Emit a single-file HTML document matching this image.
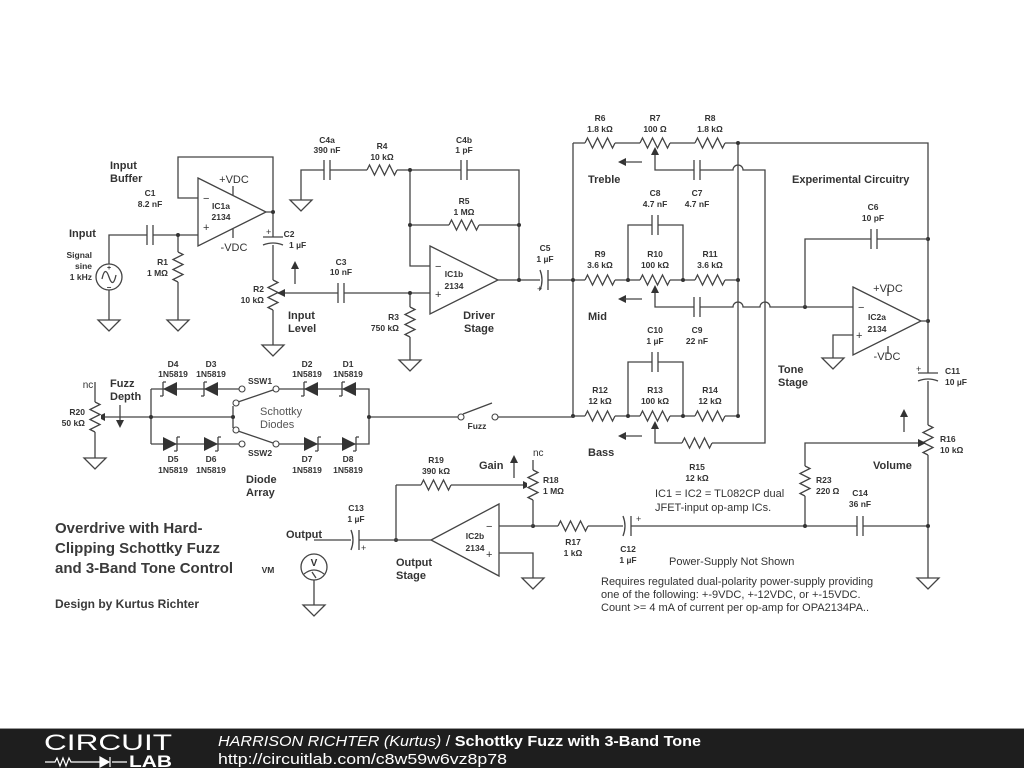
<!DOCTYPE html>
<html><head><meta charset="utf-8"><style>
html,body{margin:0;padding:0;background:#fff;}
svg{display:block;}
.w{fill:none;stroke:#444;stroke-width:1.3;}
text{font-family:"Liberation Sans",sans-serif;fill:#333;}
.l{font-size:8.5px;font-weight:bold;text-anchor:middle;}
.b{font-size:11px;font-weight:bold;}
.n{font-size:11px;}
</style></head><body>
<svg width="1024" height="768" viewBox="0 0 1024 768">
<defs>
<g id="r"><rect x="-15" y="-6" width="30" height="12" fill="#fff"/><path class="w" d="M-15,0 l2.5,-5 l5,10 l5,-10 l5,10 l5,-10 l5,10 l2.5,-5"/></g>
<g id="c"><rect x="-3" y="-10" width="6" height="20" fill="#fff"/><path class="w" d="M-3,-10V10M3,-10V10"/></g>
<g id="ce"><rect x="-3" y="-10" width="8" height="20" fill="#fff"/><path class="w" d="M-3,-10V10M5,-10Q1,0 5,10"/></g>
<path id="g" d="M-11,0H11L0,11Z" fill="#fff" stroke="#444" stroke-width="1.3"/>
<g id="dl"><path d="M-7,0L7,-7V7Z" fill="#333"/><path class="w" d="M-7,-7V7M-7,-7h3M-7,7h-3" stroke-width="1.6"/></g>
<g id="dr"><path d="M7,0L-7,-7V7Z" fill="#333"/><path class="w" d="M7,-7V7M7,-7h3M7,7h-3" stroke-width="1.6"/></g>
</defs>

<!-- ===== Input buffer ===== -->
<path class="w" d="M109,264V235H198M109,290V320M178,235V320M198,198H178V157H273V212M266,212H273V345M233,195V186M233,229V238"/>
<circle cx="109" cy="277" r="13" fill="#fff" stroke="#444" stroke-width="1.3"/>
<path class="w" d="M102,279 q3,-14 7,-2 q4,12 7,-2"/>
<text x="109" y="270" class="l" style="font-size:7px">+</text><text x="109" y="290" class="l" style="font-size:8px">−</text>
<use href="#g" x="109" y="320"/><use href="#g" x="178" y="320"/>
<use href="#c" x="150" y="235"/>
<use href="#r" transform="translate(178,267) rotate(90)"/>
<polygon points="198,178 266,212 198,246" fill="#fff" stroke="#444" stroke-width="1.3"/>
<text x="203" y="202" class="n">−</text><text x="203" y="231" class="n">+</text>
<text x="221" y="209" class="l">IC1a</text><text x="221" y="220" class="l">2134</text>
<text x="234" y="183" class="n" text-anchor="middle">+VDC</text><text x="234" y="251" class="n" text-anchor="middle">-VDC</text>
<use href="#ce" transform="translate(273,240) rotate(90)"/>
<text x="266" y="235" class="n" style="font-size:9px">+</text>
<text x="289" y="237" class="l" text-anchor="start">C2</text><text x="289" y="248" class="l" style="text-anchor:start">1 µF</text>
<use href="#r" transform="translate(273,295) rotate(90)"/>
<use href="#g" x="273" y="345"/>
<text x="110" y="169" class="b">Input</text><text x="110" y="182" class="b">Buffer</text>
<text x="69" y="237" class="b">Input</text>
<text x="92" y="258" class="l" style="text-anchor:end">Signal</text><text x="92" y="269" class="l" style="text-anchor:end">sine</text><text x="92" y="280" class="l" style="text-anchor:end">1 kHz</text>
<text x="150" y="196" class="l">C1</text><text x="150" y="207" class="l">8.2 nF</text>
<text x="168" y="265" class="l" style="text-anchor:end">R1</text><text x="168" y="276" class="l" style="text-anchor:end">1 MΩ</text>
<text x="264" y="292" class="l" style="text-anchor:end">R2</text><text x="264" y="303" class="l" style="text-anchor:end">10 kΩ</text>
<text x="288" y="319" class="b">Input</text><text x="288" y="332" class="b">Level</text>
<path class="w" d="M295,284V268"/><path d="M295,261l-4,8h8z" fill="#333"/>

<!-- ===== Driver ===== -->
<path class="w" d="M278,293H430M410,293V360M430,266H410V170H519V280M410,225H519M498,280H574M301,200V170H410"/>
<path d="M277,293l8,-4v8z" fill="#333"/>
<use href="#g" x="301" y="200"/><use href="#g" x="410" y="360"/>
<use href="#c" x="341" y="293"/><use href="#c" x="327" y="170"/><use href="#c" x="464" y="170"/>
<use href="#r" x="382" y="170"/><use href="#r" x="464" y="225"/>
<use href="#r" transform="translate(410,322) rotate(90)"/>
<polygon points="430,246 498,280 430,314" fill="#fff" stroke="#444" stroke-width="1.3"/>
<text x="435" y="270" class="n">−</text><text x="435" y="298" class="n">+</text>
<text x="454" y="277" class="l">IC1b</text><text x="454" y="289" class="l">2134</text>
<text x="341" y="265" class="l">C3</text><text x="341" y="275" class="l">10 nF</text>
<text x="399" y="320" class="l" style="text-anchor:end">R3</text><text x="399" y="331" class="l" style="text-anchor:end">750 kΩ</text>
<text x="327" y="143" class="l">C4a</text><text x="327" y="153" class="l">390 nF</text>
<text x="382" y="149" class="l">R4</text><text x="382" y="160" class="l">10 kΩ</text>
<text x="464" y="143" class="l">C4b</text><text x="464" y="153" class="l">1 pF</text>
<text x="464" y="204" class="l">R5</text><text x="464" y="215" class="l">1 MΩ</text>
<text x="479" y="319" class="b" text-anchor="middle">Driver</text><text x="479" y="332" class="b" text-anchor="middle">Stage</text>
<use href="#ce" transform="translate(545,280) rotate(180)"/>
<text x="537" y="292" class="n" style="font-size:9px">+</text>
<text x="545" y="251" class="l">C5</text><text x="545" y="262" class="l">1 µF</text>
<g fill="#333"><circle cx="178" cy="235" r="2"/><circle cx="273" cy="212" r="2"/><circle cx="410" cy="293" r="2"/><circle cx="410" cy="225" r="2"/><circle cx="410" cy="170" r="2"/><circle cx="519" cy="225" r="2"/><circle cx="519" cy="280" r="2"/></g>

<!-- ===== Tone stack ===== -->
<path class="w" d="M573,143V416M573,143H928V578M573,280H738M573,416H738M738,143V416M628,280V225H683V280M628,416V362H683V416"/>
<path class="w" d="M655,150V170H733a5,5 0 0 1 10,0H765V443H655V424"/>
<path class="w" d="M655,288V307H733a5,5 0 0 1 10,0H760a5,5 0 0 1 10,0H853"/>
<use href="#r" x="600" y="143"/><use href="#r" x="655" y="143"/><use href="#r" x="710" y="143"/>
<use href="#r" x="600" y="280"/><use href="#r" x="655" y="280"/><use href="#r" x="710" y="280"/>
<use href="#r" x="600" y="416"/><use href="#r" x="655" y="416"/><use href="#r" x="710" y="416"/>
<use href="#r" x="697" y="443"/>
<use href="#c" x="697" y="170"/><use href="#c" x="655" y="225"/><use href="#c" x="697" y="307"/><use href="#c" x="655" y="362"/>
<g fill="#333"><path d="M655,147l-4,8h8z"/><path d="M655,285l-4,8h8z"/><path d="M655,421l-4,8h8z"/>
<path d="M618,162l8,-4v8z"/><path d="M618,299l8,-4v8z"/><path d="M618,436l8,-4v8z"/>
<circle cx="738" cy="143" r="2"/><circle cx="573" cy="280" r="2"/><circle cx="628" cy="280" r="2"/><circle cx="683" cy="280" r="2"/><circle cx="738" cy="280" r="2"/>
<circle cx="573" cy="416" r="2"/><circle cx="628" cy="416" r="2"/><circle cx="683" cy="416" r="2"/><circle cx="738" cy="416" r="2"/>
<circle cx="805" cy="307" r="2"/><circle cx="928" cy="239" r="2"/><circle cx="928" cy="321" r="2"/></g>
<path class="w" d="M624,162H642M624,299H642M624,436H642"/>
<text x="600" y="121" class="l">R6</text><text x="600" y="132" class="l">1.8 kΩ</text>
<text x="655" y="121" class="l">R7</text><text x="655" y="132" class="l">100 Ω</text>
<text x="710" y="121" class="l">R8</text><text x="710" y="132" class="l">1.8 kΩ</text>
<text x="588" y="183" class="b">Treble</text>
<text x="655" y="196" class="l">C8</text><text x="655" y="207" class="l">4.7 nF</text>
<text x="697" y="196" class="l">C7</text><text x="697" y="207" class="l">4.7 nF</text>
<text x="600" y="257" class="l">R9</text><text x="600" y="268" class="l">3.6 kΩ</text>
<text x="655" y="257" class="l">R10</text><text x="655" y="268" class="l">100 kΩ</text>
<text x="710" y="257" class="l">R11</text><text x="710" y="268" class="l">3.6 kΩ</text>
<text x="588" y="320" class="b">Mid</text>
<text x="655" y="333" class="l">C10</text><text x="655" y="344" class="l">1 µF</text>
<text x="697" y="333" class="l">C9</text><text x="697" y="344" class="l">22 nF</text>
<text x="600" y="393" class="l">R12</text><text x="600" y="404" class="l">12 kΩ</text>
<text x="655" y="393" class="l">R13</text><text x="655" y="404" class="l">100 kΩ</text>
<text x="710" y="393" class="l">R14</text><text x="710" y="404" class="l">12 kΩ</text>
<text x="588" y="456" class="b">Bass</text>
<text x="697" y="470" class="l">R15</text><text x="697" y="481" class="l">12 kΩ</text>

<!-- ===== IC2a tone stage ===== -->
<path class="w" d="M805,307V239H928M853,335H833V358M921,321H928M888,296V288M888,346V354"/>
<use href="#c" x="874" y="239"/>
<use href="#g" x="833" y="358"/>
<polygon points="853,287 921,321 853,355" fill="#fff" stroke="#444" stroke-width="1.3"/>
<text x="858" y="311" class="n">−</text><text x="856" y="339" class="n">+</text>
<text x="877" y="320" class="l">IC2a</text><text x="877" y="332" class="l">2134</text>
<text x="888" y="292" class="n" text-anchor="middle">+VDC</text><text x="887" y="360" class="n" text-anchor="middle">-VDC</text>
<text x="792" y="183" class="b">Experimental Circuitry</text>
<text x="873" y="210" class="l">C6</text><text x="873" y="221" class="l">10 pF</text>
<text x="778" y="373" class="b">Tone</text><text x="778" y="386" class="b">Stage</text>
<use href="#ce" transform="translate(928,376) rotate(90)"/>
<text x="916" y="372" class="n" style="font-size:9px">+</text>
<text x="945" y="374" class="l" style="text-anchor:start">C11</text><text x="945" y="385" class="l" style="text-anchor:start">10 µF</text>
<use href="#r" transform="translate(928,440) rotate(90)"/>
<path class="w" d="M805,526V443H922"/><path d="M926,443l-8,-4v8z" fill="#333"/>
<path class="w" d="M904,432V416"/><path d="M904,409l-4,8h8z" fill="#333"/>
<text x="940" y="442" class="l" style="text-anchor:start">R16</text><text x="940" y="453" class="l" style="text-anchor:start">10 kΩ</text>
<text x="873" y="469" class="b">Volume</text>
<use href="#r" transform="translate(805,481) rotate(90)"/>
<text x="816" y="483" class="l" style="text-anchor:start">R23</text><text x="816" y="494" class="l" style="text-anchor:start">220 Ω</text>
<path class="w" d="M533,526H928"/>
<use href="#c" x="860" y="526"/>
<text x="860" y="496" class="l">C14</text><text x="860" y="507" class="l">36 nF</text>
<use href="#g" x="928" y="578"/>
<g fill="#333"><circle cx="805" cy="526" r="2"/><circle cx="928" cy="526" r="2"/><circle cx="533" cy="526" r="2"/><circle cx="396" cy="540" r="2"/></g>
<use href="#r" x="573" y="526"/>
<use href="#ce" x="628" y="526" transform="rotate(180 628 526)"/>
<text x="636" y="522" class="n" style="font-size:9px">+</text>
<text x="573" y="545" class="l">R17</text><text x="573" y="556" class="l">1 kΩ</text>
<text x="628" y="552" class="l">C12</text><text x="628" y="563" class="l">1 µF</text>
<text x="655" y="497" class="n">IC1 = IC2 = TL082CP dual</text>
<text x="655" y="511" class="n">JFET-input op-amp ICs.</text>
<text x="669" y="565" class="n">Power-Supply Not Shown</text>
<text x="601" y="585" class="n">Requires regulated dual-polarity power-supply providing</text>
<text x="601" y="598" class="n">one of the following: +-9VDC, +-12VDC, or +-15VDC.</text>
<text x="601" y="611" class="n">Count &gt;= 4 mA of current per op-amp for OPA2134PA..</text>

<!-- ===== Output stage ===== -->
<path class="w" d="M499,526H533M533,460V526M396,485H528M396,485V540H431M314,540H396M314,554V605M499,553H533V578"/>
<path d="M531,485l-8,-4v8z" fill="#333"/>
<use href="#r" x="436" y="485"/>
<use href="#r" transform="translate(533,485) rotate(90)"/>
<use href="#ce" x="356" y="540" transform="rotate(180 356 540)"/>
<text x="361" y="551" class="n" style="font-size:9px">+</text>
<polygon points="499,504 431,540 499,576" fill="#fff" stroke="#444" stroke-width="1.3"/>
<text x="486" y="530" class="n">−</text><text x="486" y="558" class="n">+</text>
<text x="475" y="539" class="l">IC2b</text><text x="475" y="551" class="l">2134</text>
<use href="#g" x="533" y="578"/>
<circle cx="314" cy="567" r="13" fill="#fff" stroke="#444" stroke-width="1.3"/>
<text x="314" y="566" class="l" style="font-size:10px">V</text>
<path class="w" d="M304,574q10,-8 20,0M312,572l4,6" stroke-width="0.9"/>
<use href="#g" x="314" y="605"/>
<text x="286" y="538" class="b">Output</text>
<text x="268" y="573" class="l">VM</text>
<text x="356" y="511" class="l">C13</text><text x="356" y="522" class="l">1 µF</text>
<text x="396" y="566" class="b">Output</text><text x="396" y="579" class="b">Stage</text>
<text x="436" y="463" class="l">R19</text><text x="436" y="474" class="l">390 kΩ</text>
<text x="479" y="469" class="b">Gain</text>
<path class="w" d="M514,478V462"/><path d="M514,455l-4,8h8z" fill="#333"/>
<text x="533" y="456" class="n" style="font-size:10px">nc</text>
<text x="543" y="483" class="l" style="text-anchor:start">R18</text><text x="543" y="494" class="l" style="text-anchor:start">1 MΩ</text>

<!-- ===== Diode array ===== -->
<path class="w" d="M95,382V458M99,417H233M151,389V444M151,389H239M279,389H369V444H279M239,444H151M233,406V428M369,417H458M498,417H574"/>
<path d="M97,417l8,-4v8z" fill="#333"/>
<use href="#r" transform="translate(95,417) rotate(90)"/>
<use href="#g" x="95" y="458"/>
<path class="w" d="M120,405V421"/><path d="M120,428l-4,-8h8z" fill="#333"/>
<use href="#dl" x="170" y="389"/><use href="#dl" x="211" y="389"/><use href="#dl" x="311" y="389"/><use href="#dl" x="349" y="389"/>
<use href="#dr" x="170" y="444"/><use href="#dr" x="211" y="444"/><use href="#dr" x="311" y="444"/><use href="#dr" x="349" y="444"/>
<path class="w" d="M238,402L273,390M238,431L273,443M463,414L492,403"/>
<g fill="#fff" stroke="#444" stroke-width="1.1"><circle cx="242" cy="389" r="3"/><circle cx="276" cy="389" r="3"/><circle cx="236" cy="403" r="3"/><circle cx="236" cy="430" r="3"/><circle cx="242" cy="444" r="3"/><circle cx="276" cy="444" r="3"/><circle cx="461" cy="417" r="3"/><circle cx="495" cy="417" r="3"/></g>
<g fill="#333"><circle cx="151" cy="417" r="2"/><circle cx="233" cy="417" r="2"/><circle cx="369" cy="417" r="2"/></g>
<text x="88" y="388" class="n" style="font-size:10px" text-anchor="middle">nc</text>
<text x="110" y="387" class="b">Fuzz</text><text x="110" y="400" class="b">Depth</text>
<text x="85" y="415" class="l" style="text-anchor:end">R20</text><text x="85" y="426" class="l" style="text-anchor:end">50 kΩ</text>
<text x="173" y="367" class="l">D4</text><text x="173" y="377" class="l">1N5819</text>
<text x="211" y="367" class="l">D3</text><text x="211" y="377" class="l">1N5819</text>
<text x="307" y="367" class="l">D2</text><text x="307" y="377" class="l">1N5819</text>
<text x="348" y="367" class="l">D1</text><text x="348" y="377" class="l">1N5819</text>
<text x="173" y="462" class="l">D5</text><text x="173" y="473" class="l">1N5819</text>
<text x="211" y="462" class="l">D6</text><text x="211" y="473" class="l">1N5819</text>
<text x="307" y="462" class="l">D7</text><text x="307" y="473" class="l">1N5819</text>
<text x="348" y="462" class="l">D8</text><text x="348" y="473" class="l">1N5819</text>
<text x="260" y="384" class="l">SSW1</text><text x="260" y="456" class="l">SSW2</text>
<text x="260" y="415" class="n" style="fill:#555">Schottky</text><text x="260" y="428" class="n" style="fill:#555">Diodes</text>
<text x="246" y="483" class="b">Diode</text><text x="246" y="496" class="b">Array</text>
<text x="477" y="429" class="l">Fuzz</text>

<text x="55" y="533" style="font-size:15px;font-weight:bold;fill:#3a3a3a">Overdrive with Hard-</text>
<text x="55" y="553" style="font-size:15px;font-weight:bold;fill:#3a3a3a">Clipping Schottky Fuzz</text>
<text x="55" y="573" style="font-size:15px;font-weight:bold;fill:#3a3a3a">and 3-Band Tone Control</text>
<text x="55" y="608" style="font-size:12px;font-weight:bold;fill:#3a3a3a">Design by Kurtus Richter</text>

<!-- ===== Footer ===== -->
<rect x="0" y="729" width="1024" height="39" fill="#1e1e1e"/>
<rect x="0" y="728" width="1024" height="1" fill="#999"/>
<text x="44" y="750" style="font-size:22px;fill:#fff" textLength="128" lengthAdjust="spacingAndGlyphs">CIRCUIT</text>
<path d="M45,762H55l2,-4 3,8 3,-8 3,8 3,-8 2,4H100M112,762H127" stroke="#fff" stroke-width="1.2" fill="none"/>
<path d="M100,757L109,762L100,767Z M110,757V767" fill="#fff" stroke="#fff" stroke-width="1.2"/>
<text x="129" y="767" style="font-size:17px;font-weight:bold;fill:#fff" textLength="43" lengthAdjust="spacingAndGlyphs">LAB</text>
<text x="218" y="746" style="font-size:15px;fill:#fff" textLength="483" lengthAdjust="spacingAndGlyphs"><tspan font-style="italic">HARRISON RICHTER (Kurtus)</tspan> / <tspan font-weight="bold">Schottky Fuzz with 3-Band Tone</tspan></text>
<text x="218" y="764" style="font-size:15px;fill:#fff" textLength="289" lengthAdjust="spacingAndGlyphs">http://circuitlab.com/c8w59w6vz8p78</text>
</svg>
</body></html>
